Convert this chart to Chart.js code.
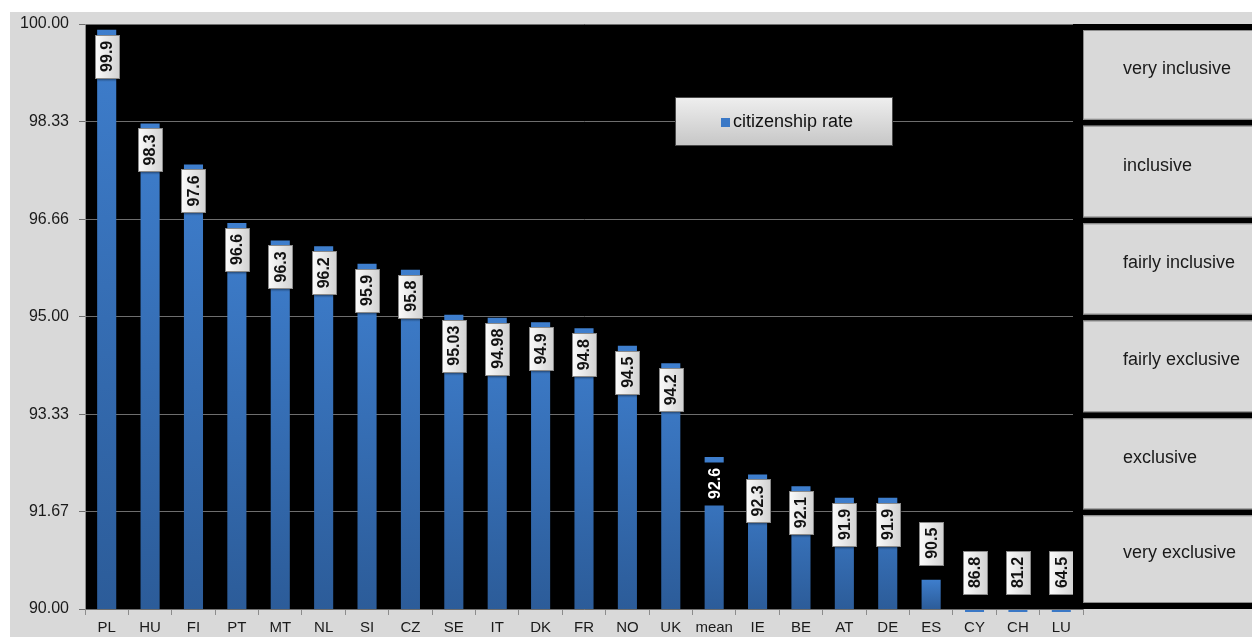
<!DOCTYPE html>
<html>
<head>
<meta charset="utf-8">
<script src="https://cdn.jsdelivr.net/npm/chart.js@4.4.0/dist/chart.umd.min.js"></script>
<style>
  html, body { margin: 0; padding: 0; background: #ffffff; }
  #wrap { width: 1252px; height: 637px; position: relative; }
</style>
</head>
<body>
<div id="wrap"><canvas id="myChart" width="1252" height="637"></canvas></div>
<script>
// categories and values
const countries = ['PL', 'HU', 'FI', 'PT', 'MT', 'NL', 'SI', 'CZ', 'SE', 'IT', 'DK', 'FR', 'NO', 'UK', 'mean', 'IE', 'BE', 'AT', 'DE', 'ES', 'CY', 'CH', 'LU'];
const citizenshipRate = [99.9, 98.3, 97.6, 96.6, 96.3, 96.2, 95.9, 95.8, 95.03, 94.98, 94.9, 94.8, 94.5, 94.2, 92.6, 92.3, 92.1, 91.9, 91.9, 90.5, 86.8, 81.2, 64.5];
const yTicks = [90, 91.67, 93.33, 95, 96.66, 98.33, 100];
const yTickLabels = ['90.00', '91.67', '93.33', '95.00', '96.66', '98.33', '100.00'];
// bands between ticks, bottom to top
const bandLabels = ['very exclusive', 'exclusive', 'fairly exclusive', 'fairly inclusive', 'inclusive', 'very inclusive'];
const meanLabel = 'mean';

const fontFamily = '"Liberation Sans", Arial, sans-serif';

var barColor = function (context) {
    var chart = context.chart;
    var area = chart.chartArea;
    if (!area) return '#3a78c6';
    var top = chart.scales.y.getPixelForValue(context.raw);
    if (top >= area.bottom) return '#3a78c6';
    var g = chart.ctx.createLinearGradient(0, top, 0, area.bottom);
    g.addColorStop(0, '#3e7ecd');
    g.addColorStop(1, '#2c5c99');
    return g;
}

const backgroundPlugin = {
    id: 'backgroundPlugin',
    beforeDraw: function (chart) {
        var ctx = chart.ctx;
        var area = chart.chartArea;
        ctx.save();
        ctx.fillStyle = '#ffffff';
        ctx.fillRect(0, 0, chart.width, chart.height);
        ctx.fillStyle = '#d9d9d9';
        ctx.fillRect(10, 12, chart.width - 10, chart.height - 12);
        ctx.fillStyle = '#000000';
        ctx.fillRect(area.left, area.top, area.right - area.left, area.bottom - area.top);
        ctx.restore();
    }
}

const panelPlugin = {
    id: 'panelPlugin',
    afterDraw: function (chart) {
        var ctx = chart.ctx;
        var area = chart.chartArea;
        var y = chart.scales.y;
        ctx.save();
        // black strip on the right side of the plot
        ctx.fillStyle = '#000000';
        ctx.fillRect(area.right - 10, area.top, chart.width - area.right + 10, area.bottom - area.top);
        for (let i = 0; i < bandLabels.length; i++) {
            var lower = y.getPixelForValue(yTicks[i]);
            var upper = y.getPixelForValue(yTicks[i + 1]);
            var top = upper + (i == bandLabels.length - 1 ? 6 : 4);
            var bottom = lower - (i == 0 ? 6 : 2);
            ctx.fillStyle = '#d9d9d9';
            ctx.fillRect(area.right, top, chart.width - area.right + 2, bottom - top);
            ctx.strokeStyle = '#8c8c8c';
            ctx.lineWidth = 1;
            ctx.strokeRect(area.right + 0.5, top + 0.5, chart.width - area.right + 2, bottom - top - 1);
            ctx.fillStyle = '#1a1a1a';
            ctx.font = '18px ' + fontFamily;
            ctx.textAlign = 'left';
            ctx.textBaseline = 'middle';
            ctx.fillText(bandLabels[i], area.right + 40, (top + bottom) / 2 - 6);
        }
        // legend box
        var lx = 675, ly = 97, lw = 218, lh = 49;
        var lg = ctx.createLinearGradient(0, ly, 0, ly + lh);
        lg.addColorStop(0, '#efefef');
        lg.addColorStop(1, '#c6c6c6');
        ctx.fillStyle = lg;
        ctx.fillRect(lx, ly, lw, lh);
        ctx.strokeStyle = '#4a4a4a';
        ctx.strokeRect(lx + 0.5, ly + 0.5, lw - 1, lh - 1);
        ctx.fillStyle = '#3a78c6';
        ctx.fillRect(721, 118, 9, 9);
        ctx.fillStyle = '#111111';
        ctx.font = '18px ' + fontFamily;
        ctx.textAlign = 'left';
        ctx.textBaseline = 'middle';
        ctx.fillText(chart.data.datasets[0].label, 733, 122);
        ctx.restore();
    }
}

const valueLabelPlugin = {
    id: 'valueLabelPlugin',
    afterDatasetsDraw: function (chart) {
        var ctx = chart.ctx;
        var area = chart.chartArea;
        var meta = chart.getDatasetMeta(0);
        var data = chart.data.datasets[0].data;
        ctx.save();
        ctx.font = 'bold 16px ' + fontFamily;
        meta.data.forEach(function (bar, i) {
            var text = String(data[i]);
            var tw = ctx.measureText(text).width;
            var boxH = Math.round(tw + 12);
            var boxW = 24;
            var top = Math.min(bar.y, area.bottom);
            var barH = area.bottom - top;
            var boxTop;
            if (barH > boxH + 14) {
                boxTop = top + 5;
            } else {
                boxTop = top - 15 - boxH;
            }
            if (bar.y >= area.bottom) {
                // bar below the axis minimum: only a thin line at the axis
                ctx.fillStyle = '#3a78c6';
                ctx.fillRect(bar.x - 9.5, area.bottom + 1, 19, 2);
            }
            var bx = Math.round(bar.x - boxW / 2) + 0.5;
            var by = Math.round(boxTop) + 0.5;
            var isMean = chart.data.labels[i] == meanLabel;
            ctx.save();
            if (isMean) {
                ctx.fillStyle = '#000000';
                ctx.fillRect(bx, by, boxW, boxH);
            } else {
                ctx.shadowColor = 'rgba(0,0,0,0.45)';
                ctx.shadowOffsetX = 1;
                ctx.shadowOffsetY = 1;
                ctx.shadowBlur = 2;
                var g = ctx.createLinearGradient(bx, 0, bx + boxW, 0);
                g.addColorStop(0, '#fbfbfb');
                g.addColorStop(1, '#d2d2d2');
                ctx.fillStyle = g;
                ctx.fillRect(bx, by, boxW, boxH);
                ctx.shadowColor = 'transparent';
                ctx.strokeStyle = '#8a8a8a';
                ctx.lineWidth = 1;
                ctx.strokeRect(bx, by, boxW, boxH);
            }
            ctx.restore();
            ctx.save();
            ctx.translate(bar.x, boxTop + boxH / 2);
            ctx.rotate(-Math.PI / 2);
            ctx.fillStyle = isMean ? '#ffffff' : '#111111';
            ctx.textAlign = 'center';
            ctx.textBaseline = 'middle';
            ctx.fillText(text, 0, 1);
            ctx.restore();
        });
        ctx.restore();
    }
}

const ctx = document.getElementById('myChart');
const myChart = new Chart(ctx, {
    type: 'bar',
    data: {
        labels: countries,
        datasets: [{
            label: 'citizenship rate',
            data: citizenshipRate,
            backgroundColor: barColor,
            borderWidth: 0,
            barPercentage: 0.44,
            categoryPercentage: 1
        }]
    },
    options: {
        responsive: false,
        animation: false,
        events: [],
        layout: {
            padding: { left: 0, top: 24, right: 169, bottom: 0 }
        },
        plugins: {
            legend: { display: false },
            tooltip: { enabled: false }
        },
        scales: {
            x: {
                grid: {
                    offset: true,
                    drawOnChartArea: false,
                    tickLength: 6,
                    color: '#8c8c8c'
                },
                border: { color: '#8c8c8c' },
                ticks: {
                    color: '#1a1a1a',
                    font: { size: 15, family: fontFamily },
                    padding: 4,
                    maxRotation: 0,
                    autoSkip: false
                },
                afterFit: function (axis) {
                    axis.height = 28;
                }
            },
            y: {
                min: 90,
                max: 100,
                afterBuildTicks: function (axis) {
                    axis.ticks = yTicks.map(v => ({ value: v }));
                },
                grid: {
                    color: '#6e6e6e',
                    tickLength: 6,
                    z: 0
                },
                border: { color: '#8c8c8c' },
                ticks: {
                    color: '#1a1a1a',
                    font: { size: 16, family: fontFamily },
                    padding: 10,
                    callback: function (value, index) {
                        return yTickLabels[index];
                    }
                },
                afterFit: function (axis) {
                    axis.width = 85;
                }
            }
        }
    },
    plugins: [backgroundPlugin, valueLabelPlugin, panelPlugin]
});
</script>
</body>
</html>
